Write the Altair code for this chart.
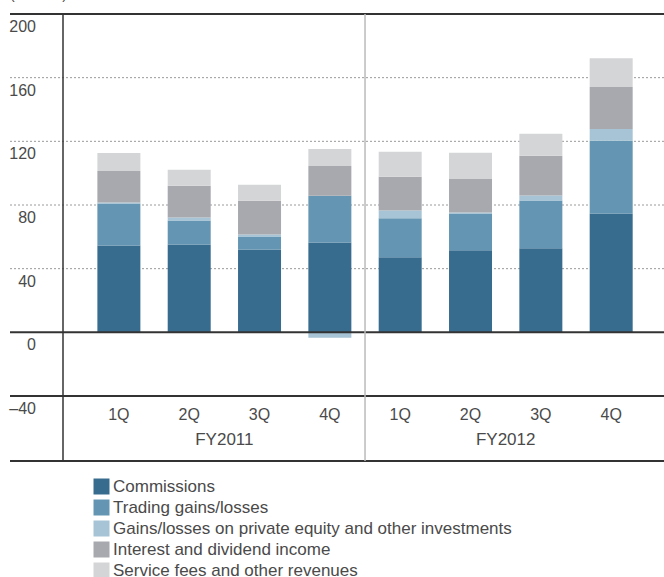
import altair as alt
import pandas as pd

# ---- data ----
quarters = ["1Q", "2Q", "3Q", "4Q", "1Q", "2Q", "3Q", "4Q"]
years = ["FY2011", "FY2012"]
series = [
    "Commissions",
    "Trading gains/losses",
    "Gains/losses on private equity and other investments",
    "Interest and dividend income",
    "Service fees and other revenues",
]
commissions = [54.6, 55.2, 52.1, 56.4, 47.2, 51.6, 52.8, 74.7]
trading = [26.4, 15.0, 8.1, 29.4, 24.4, 23.1, 30.0, 45.6]
private_equity = [0.6, 1.9, 1.2, -3.4, 5.0, 0.6, 3.1, 7.5]
interest = [19.8, 20.0, 21.3, 18.7, 21.2, 21.3, 25.0, 26.3]
service = [11.3, 10.0, 10.0, 10.7, 15.6, 16.2, 13.8, 18.1]
y_ticks = [200, 160, 120, 80, 40, 0, -40]
y_tick_labels = ["200", "160", "120", "80", "40", "0", "\u201340"]
grid_values = [160, 120, 80, 40]
frame_values = [200, 0, -40]
unit_label = "(\u00a5 billion)"

colors = ["#386c8f", "#6496b3", "#a6c4d5", "#a8a9ae", "#d4d5d7"]

# ---- tables ----
values_by_series = [commissions, trading, private_equity, interest, service]
rows = []
for s_i, (name, vals) in enumerate(zip(series, values_by_series)):
    for q_i, v in enumerate(vals):
        rows.append({"idx": q_i, "series": name, "value": v, "ord": s_i})
df = pd.DataFrame(rows)

df_q = pd.DataFrame({"idx": list(range(len(quarters))), "quarter": quarters})
df_fy = pd.DataFrame({"pos": [1.5, 5.5], "year": years})
df_sep = pd.DataFrame({"pos": [3.5]})
df_grid = pd.DataFrame({"v": grid_values})
df_frame = pd.DataFrame({"v": frame_values})
df_ylab = pd.DataFrame({"v": y_ticks, "lab": y_tick_labels})
df_unit = pd.DataFrame({"t": [unit_label]})

W, H = 654, 382
FONT = "Liberation Sans"
TXT = "#4a4a4a"

xs = alt.Scale(domain=[-1.477, 7.68], nice=False, zero=False)
ys = alt.Scale(domain=[-40, 200], nice=False, zero=False)

grid = alt.Chart(df_grid).mark_rule(
    strokeDash=[2, 2], color="#9a9a9a", strokeWidth=1
).encode(
    y=alt.Y("v:Q", scale=ys, axis=None), x=alt.value(0), x2=alt.value(W)
)

bars = alt.Chart(df).mark_bar(size=43).encode(
    x=alt.X("idx:Q", scale=xs, axis=None),
    y=alt.Y("value:Q", scale=ys, axis=None, stack="zero"),
    color=alt.Color(
        "series:N",
        scale=alt.Scale(domain=series, range=colors),
        sort=series,
        legend=alt.Legend(
            title=None,
            orient="none",
            legendX=83,
            legendY=464,
            direction="vertical",
            symbolType="square",
            symbolSize=256,
            symbolStrokeWidth=0,
            labelFontSize=17,
            labelFont=FONT,
            labelColor=TXT,
            labelOffset=3,
            rowPadding=3,
            padding=0,
            labelLimit=600,
        ),
    ),
    order=alt.Order("ord:Q"),
)

frame = alt.Chart(df_frame).mark_rule(color="#333333", strokeWidth=2).encode(
    y=alt.Y("v:Q", scale=ys, axis=None), x=alt.value(0), x2=alt.value(W)
)

bottom_line = alt.Chart(df_unit).mark_rule(color="#333333", strokeWidth=2).encode(
    y=alt.value(447), x=alt.value(0), x2=alt.value(W)
)

left_line = alt.Chart(df_unit).mark_rule(color="#333333", strokeWidth=1.5).encode(
    x=alt.value(53), y=alt.value(0), y2=alt.value(447)
)

sep_line = alt.Chart(df_sep).mark_rule(color="#bbbbbb", strokeWidth=1.5).encode(
    x=alt.X("pos:Q", scale=xs, axis=None), y=alt.value(0), y2=alt.value(447)
)

ylabels = alt.Chart(df_ylab).mark_text(
    align="right", baseline="middle", dy=13, fontSize=16, font=FONT, color=TXT
).encode(
    y=alt.Y("v:Q", scale=ys, axis=None), x=alt.value(26), text="lab:N"
)

qlabels = alt.Chart(df_q).mark_text(
    align="center", baseline="middle", fontSize=16, font=FONT, color=TXT
).encode(
    x=alt.X("idx:Q", scale=xs, axis=None), y=alt.value(400.5), text="quarter:N"
)

fylabels = alt.Chart(df_fy).mark_text(
    align="center", baseline="middle", fontSize=17, font=FONT, color=TXT
).encode(
    x=alt.X("pos:Q", scale=xs, axis=None), y=alt.value(426), text="year:N"
)

unit = alt.Chart(df_unit).mark_text(
    align="left", baseline="alphabetic", fontSize=14, font=FONT, color=TXT
).encode(x=alt.value(0), y=alt.value(-15), text="t:N")

chart = alt.layer(
    grid, bars, frame, bottom_line, left_line, sep_line, ylabels, qlabels, fylabels, unit
).properties(
    width=W,
    height=H,
    padding={"left": 10, "top": 14, "right": 0, "bottom": 181},
    autosize=alt.AutoSizeParams(type="none"),
).configure_view(stroke=None)

chart.save("out.html", embed_options={"renderer": "svg", "actions": False})
